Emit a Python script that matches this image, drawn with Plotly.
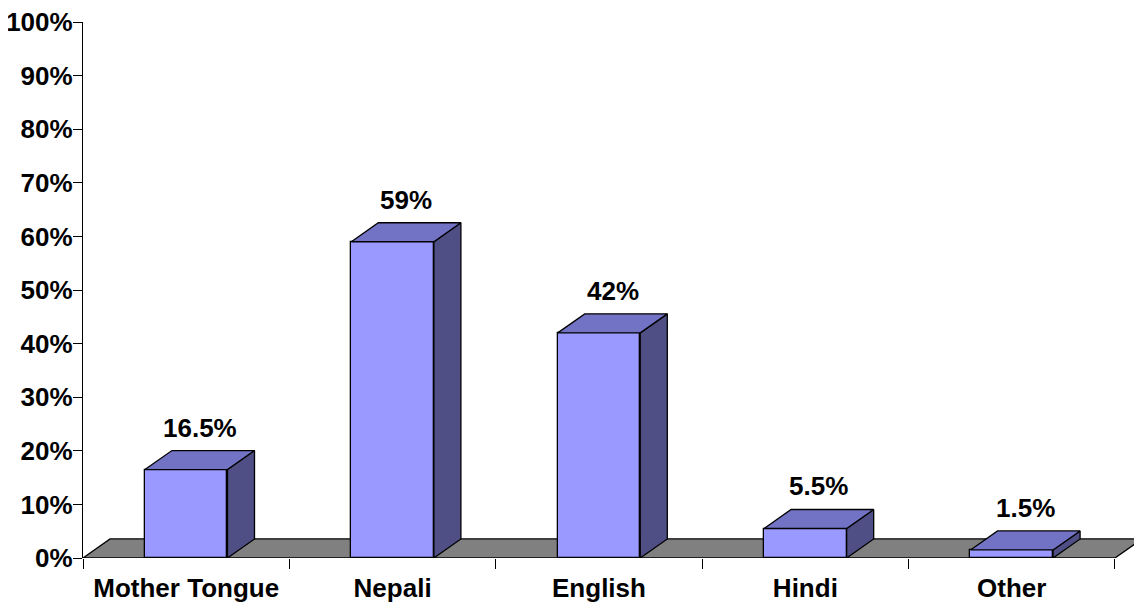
import plotly.graph_objects as go

categories = ["Mother Tongue", "Nepali", "English", "Hindi", "Other"]
shares = [0.165, 0.59, 0.42, 0.055, 0.015]
y_ticks = [i / 10 for i in range(11)]

FRONT = "#9999FF"
TOP = "#7373C6"
SIDE = "#4F4F86"
FLOOR = "#808080"
BAR_W = 0.4
DX = 0.131    # depth of the 3-D effect, x units
DY = 0.0355   # depth of the 3-D effect, y units
FONT = dict(family="Liberation Sans", size=26, color="black", weight="bold")

x = list(range(len(categories)))
x_lo, x_hi = -0.5, len(categories) - 0.5

fig = go.Figure()

# front faces
fig.add_trace(go.Bar(
    x=x, y=shares, width=BAR_W,
    marker=dict(color=FRONT, line=dict(color="black", width=1.3)),
    hoverinfo="skip", showlegend=False,
))

# side and top faces
side_x, side_y, top_x, top_y = [], [], [], []
for xi, v in zip(x, shares):
    l, r = xi - BAR_W / 2, xi + BAR_W / 2
    side_x += [r, r + DX, r + DX, r, r, None]
    side_y += [0, DY, v + DY, v, 0, None]
    top_x += [l, r, r + DX, l + DX, l, None]
    top_y += [v, v, v + DY, v + DY, v, None]

fig.add_trace(go.Scatter(x=side_x, y=side_y, mode="lines", fill="toself", fillcolor=SIDE,
                         line=dict(color="black", width=1.3), hoverinfo="skip", showlegend=False))
fig.add_trace(go.Scatter(x=top_x, y=top_y, mode="lines", fill="toself", fillcolor=TOP,
                         line=dict(color="black", width=1.3), hoverinfo="skip", showlegend=False))

# value labels
for xi, v in zip(x, shares):
    fig.add_annotation(x=xi + DX / 2, y=v + DY, text=f"{v * 100:g}%", showarrow=False,
                       yanchor="bottom", yshift=6, font=FONT)

# floor
fig.add_shape(
    type="path", layer="below", xref="x", yref="y",
    path=f"M {x_lo},0 L {x_hi},0 L {x_hi + DX},{DY} L {x_lo + DX},{DY} Z",
    fillcolor=FLOOR, line=dict(color="black", width=1.3),
)

fig.update_xaxes(
    range=[x_lo, x_hi + DX], tickvals=x, ticktext=categories, ticks="",
    showline=False, showgrid=False, zeroline=False, tickfont=FONT, automargin=False,
    ticklabelstandoff=12,
    minor=dict(tickmode="array", tickvals=[i - 0.5 for i in range(len(categories) + 1)],
               ticks="outside", ticklen=10, tickwidth=1.3, tickcolor="black", showgrid=False),
)
fig.update_yaxes(
    range=[0, 1], tickvals=y_ticks, tickformat=".0%", ticks="outside", ticklen=9,
    tickwidth=1.3, tickcolor="black", showline=True, linecolor="black", linewidth=1.3,
    showgrid=False, zeroline=False, tickfont=FONT, automargin=False, ticklabelstandoff=-5,
    ticklabeloverflow="allow",
)
# the page body adds an 8px offset, so the figure is 8px smaller than the window
fig.update_layout(
    width=1134, height=596, margin=dict(l=75, r=0, t=14, b=46),
    plot_bgcolor="white", paper_bgcolor="white", bargap=0,
)

fig.write_html("out.html")
